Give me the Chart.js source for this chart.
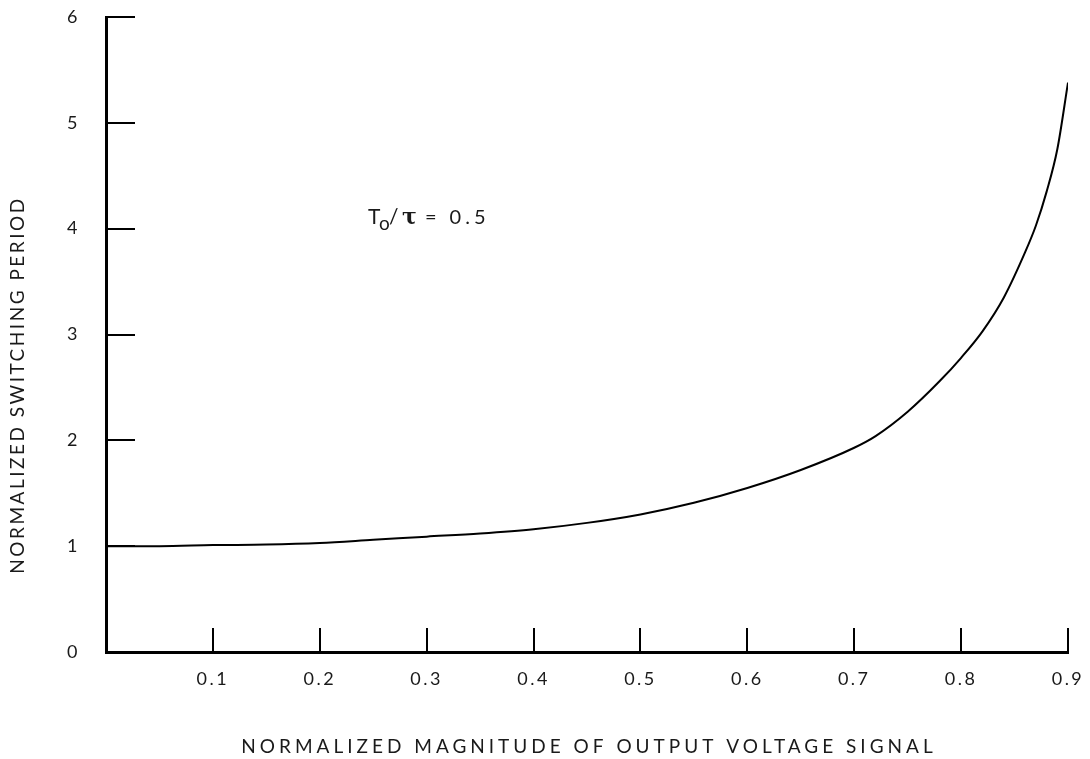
<!DOCTYPE html>
<html>
<head>
<meta charset="utf-8">
<script src="https://cdn.jsdelivr.net/npm/chart.js@4"></script>
<style>
  html, body { margin: 0; padding: 0; background: #fff; overflow: hidden; }
  canvas { display: block; }
</style>
</head>
<body>
<canvas id="chart" width="1090" height="759"></canvas>
<script>
// Normalized switching period vs. normalized output voltage magnitude

const magnitude = [0, 0.05, 0.1, 0.15, 0.2, 0.25, 0.3, 0.35, 0.4, 0.45, 0.5, 0.55, 0.6, 0.65, 0.7, 0.72, 0.75, 0.78, 0.8, 0.82, 0.84, 0.86, 0.87, 0.88, 0.89, 0.9];
const period = [1.0, 1.0, 1.01, 1.015, 1.03, 1.06, 1.09, 1.12, 1.16, 1.22, 1.30, 1.41, 1.55, 1.72, 1.93, 2.04, 2.27, 2.56, 2.78, 3.03, 3.35, 3.78, 4.03, 4.35, 4.75, 5.38];
const xTicks = [0.1, 0.2, 0.3, 0.4, 0.5, 0.6, 0.7, 0.8, 0.9];
const yTicks = [0, 1, 2, 3, 4, 5, 6];
const xTitle = 'NORMALIZED MAGNITUDE OF OUTPUT VOLTAGE SIGNAL';
const yTitle = 'NORMALIZED SWITCHING PERIOD';

const ink = '#1a1a1a';
const font = 'Lato, "Open Sans", sans-serif';

// letter spacing for the wide lettering of the original
const spacing = {
  id: 'spacing',
  beforeDraw(chart) { chart.ctx.letterSpacing = '2.5px'; }
};

// inward tick marks, axis titles and the annotation
const marks = {
  id: 'marks',
  afterDraw(chart) {
    const ctx = chart.ctx;
    const x = chart.scales.x, y = chart.scales.y;
    ctx.save();
    ctx.strokeStyle = '#000';
    ctx.lineWidth = 2;
    xTicks.forEach(v => {
      const px = Math.round(x.getPixelForValue(v));
      ctx.beginPath();
      ctx.moveTo(px, y.bottom);
      ctx.lineTo(px, y.bottom - 24);
      ctx.stroke();
    });
    yTicks.slice(1).forEach(v => {
      const py = Math.round(y.getPixelForValue(v));
      ctx.beginPath();
      ctx.moveTo(x.left, py);
      ctx.lineTo(x.left + 29, py);
      ctx.stroke();
    });

    // axis titles
    ctx.fillStyle = ink;
    ctx.textAlign = 'center';
    ctx.textBaseline = 'middle';
    ctx.font = '19px ' + font;
    ctx.letterSpacing = '4px';
    ctx.fillText(xTitle, (x.left + x.right) / 2 + 2, 747);
    ctx.save();
    ctx.translate(18, 385);
    ctx.rotate(-Math.PI / 2);
    ctx.letterSpacing = '2.5px';
    ctx.fillText(yTitle, 0, 0);
    ctx.restore();

    // T_o / tau = 0.5
    const ax = x.getPixelForValue(0.245);
    const ay = y.getPixelForValue(4.04);
    ctx.textAlign = 'left';
    ctx.textBaseline = 'alphabetic';
    ctx.letterSpacing = '0px';
    ctx.font = '21px ' + font;
    ctx.fillText('T', ax, ay);
    ctx.font = '19px ' + font;
    ctx.fillText('o', ax + 11, ay + 6);
    ctx.font = '21px ' + font;
    ctx.fillText('/', ax + 21, ay);
    ctx.font = 'bold 22px "DejaVu Serif", serif';
    ctx.fillText('τ', ax + 34, ay);
    ctx.font = '20px ' + font;
    ctx.letterSpacing = '4px';
    ctx.fillText('= 0.5', ax + 57, ay);
    ctx.restore();
  }
};

new Chart(document.getElementById('chart'), {
  type: 'line',
  data: {
    labels: magnitude,
    datasets: [{
      data: magnitude.map((m, i) => ({ x: m, y: period[i] })),
      borderColor: '#000',
      borderWidth: 2,
      pointRadius: 0,
      fill: false,
      cubicInterpolationMode: 'monotone'
    }]
  },
  options: {
    responsive: false,
    animation: false,
    layout: { padding: { top: 17, right: 22, left: 0, bottom: 0 } },
    plugins: { legend: { display: false }, tooltip: { enabled: false } },
    scales: {
      x: {
        type: 'linear',
        min: 0,
        max: 0.9,
        afterFit: s => { s.height = 107; s.paddingRight = 0; s.paddingLeft = 0; },
        afterBuildTicks: s => { s.ticks = xTicks.map(v => ({ value: v })); },
        grid: { display: false },
        border: { display: true, color: '#000', width: 3 },
        ticks: {
          color: ink,
          font: { family: font, size: 18 },
          padding: 8,
          maxRotation: 0,
          callback: v => v.toFixed(1)
        }
      },
      y: {
        min: 0,
        max: 6,
        afterFit: s => { s.width = 106; s.paddingTop = 0; s.paddingBottom = 0; },
        afterBuildTicks: s => { s.ticks = yTicks.map(v => ({ value: v })); },
        grid: { display: false },
        border: { display: true, color: '#000', width: 3 },
        ticks: {
          color: ink,
          font: { family: font, size: 18 },
          padding: 18
        }
      }
    }
  },
  plugins: [spacing, marks]
});
</script>
</body>
</html>
